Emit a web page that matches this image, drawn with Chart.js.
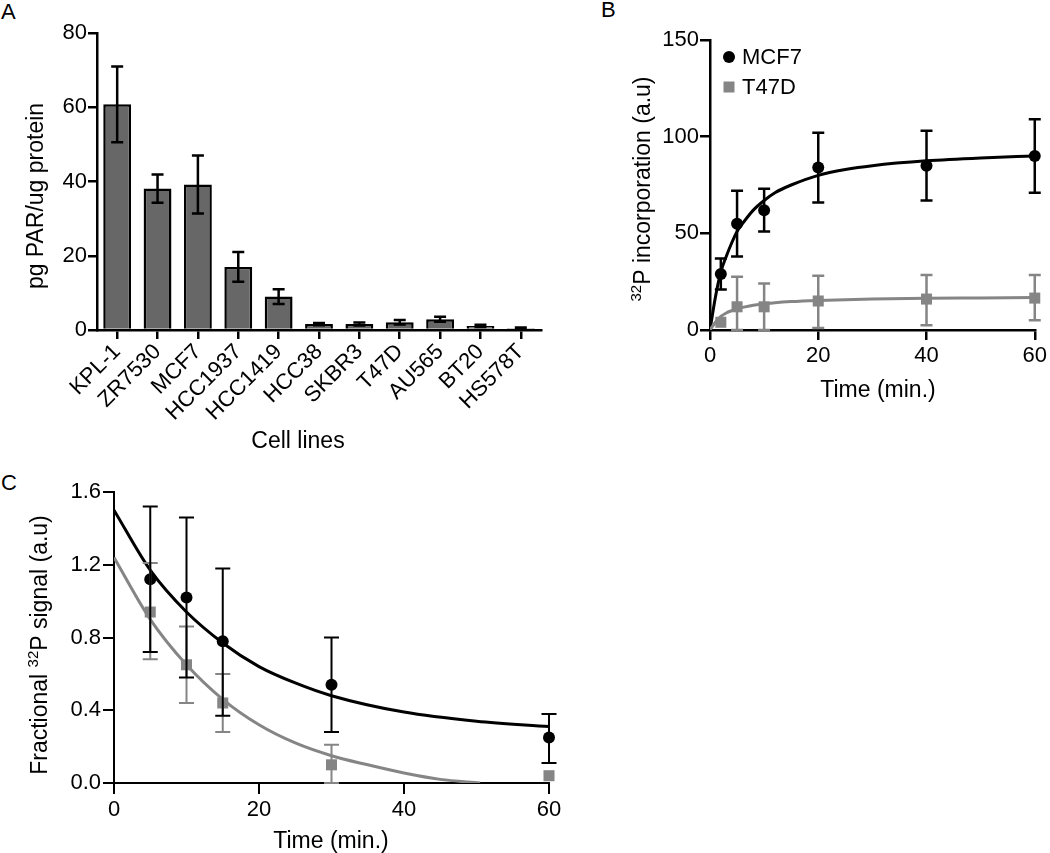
<!DOCTYPE html>
<html><head><meta charset="utf-8">
<script src="https://cdn.jsdelivr.net/npm/chart.js@4.4.1/dist/chart.umd.min.js"></script>
<style>
html,body{margin:0;padding:0;background:#fff;}
body{width:1050px;height:853px;position:relative;overflow:hidden;font-family:"Liberation Sans",Arial,sans-serif;}
canvas{position:absolute;}
.lbl{position:absolute;font-size:22px;line-height:22px;color:#000;}
</style></head><body>
<div class="lbl" style="left:1px;top:1px">A</div>
<div class="lbl" style="left:601px;top:-1px">B</div>
<div class="lbl" style="left:1px;top:472px">C</div>
<canvas id="chartA" width="560" height="470" style="left:0;top:0"></canvas>
<canvas id="chartB" width="450" height="420" style="left:600px;top:0"></canvas>
<canvas id="chartC" width="600" height="383" style="left:0;top:470px"></canvas>
<script>
// ---------- Panel A data ----------
const cellLines = ['KPL-1','ZR7530','MCF7','HCC1937','HCC1419','HCC38','SKBR3','T47D','AU565','BT20','HS578T'];
const parLevels = [60.8, 38.1, 39.2, 17.0, 9.0, 1.6, 1.6, 2.1, 2.9, 1.1, 0.5];
const parErr    = [10.2, 3.8, 7.8, 4.0, 2.0, 0.3, 0.4, 0.6, 0.7, 0.3, 0.2];
const yTicksA   = [0, 20, 40, 60, 80];

// ---------- Panel B data ----------
const timeB      = [2, 5, 10, 20, 40, 60];
const mcf7Inc    = [29, 55, 62, 84, 85, 90];
const mcf7IncHi  = [37, 72, 73, 102, 103, 109];
const mcf7IncLo  = [21, 38, 51, 66, 67, 71];
const t47dInc    = [4, 12, 12, 15, 16, 16.5];
const t47dIncHi  = [4, 27.5, 24, 28, 28.5, 28.5];
const t47dIncLo  = [4, 0, 0, 1, 2.5, 5];
const fitTimeB   = [0, 1, 2, 3, 4, 5, 6, 8, 10, 12, 15, 20, 25, 30, 40, 50, 60];
const mcf7FitB   = [0, 17, 30, 38, 45, 51, 55, 62, 67, 71, 75, 80, 83, 85, 87.5, 89, 90];
const t47dFitB   = [0, 4, 7, 8.8, 10, 11, 11.7, 12.8, 13.5, 14.1, 14.7, 15.3, 15.7, 16, 16.4, 16.6, 16.8];
const yTicksB    = [0, 50, 100, 150];
const xTicksB    = [0, 20, 40, 60];

// ---------- Panel C data ----------
const timeC      = [5, 10, 15, 30, 60];
const mcf7Frac   = [1.12, 1.02, 0.78, 0.54, 0.25];
const mcf7FracHi = [1.52, 1.46, 1.18, 0.80, 0.38];
const mcf7FracLo = [0.72, 0.58, 0.37, 0.28, 0.11];
const t47dFrac   = [0.94, 0.65, 0.44, 0.10, 0.04];
const t47dFracHi = [1.21, 0.86, 0.60, 0.21, 0.04];
const t47dFracLo = [0.68, 0.44, 0.28, 0.00, 0.04];
const fitTimeMcf7C = [0, 5, 10, 15, 20, 25, 30, 40, 50, 60];
const mcf7FitC     = [1.50, 1.17, 0.94, 0.77, 0.64, 0.55, 0.48, 0.39, 0.34, 0.31];
const fitTimeT47dC = [0, 5, 10, 15, 20, 25, 30, 35, 40, 45, 50.5];
const t47dFitC     = [1.24, 0.90, 0.65, 0.46, 0.32, 0.22, 0.15, 0.10, 0.055, 0.02, 0.0];
const yTicksC      = [0.0, 0.4, 0.8, 1.2, 1.6];
const xTicksC      = [0, 20, 40, 60];

const GRAY = '#858585';
const BAR = '#676767';
const FONT = '"Liberation Sans", Arial, sans-serif';
const TITLE = 23, SUP = 15;

Chart.defaults.font.family = FONT;
Chart.defaults.font.size = 22;
Chart.defaults.color = '#000';
Chart.defaults.animation = false;

const pts = (xs, ys) => xs.map((x, i) => ({x: x, y: ys[i]}));

// error bar plugin
const errorBars = {
  id: 'errorBars',
  afterDatasetsDraw(chart) {
    const ctx = chart.ctx, ys = chart.scales.y;
    chart.data.datasets.forEach((ds, i) => {
      if (!ds.errHi) return;
      const meta = chart.getDatasetMeta(i);
      ctx.save();
      ctx.strokeStyle = ds.errColor; ctx.lineWidth = ds.errWidth; ctx.lineCap = 'butt';
      meta.data.forEach((el, j) => {
        const x = el.x;
        const yh = ys.getPixelForValue(ds.errHi[j]);
        const yl = ys.getPixelForValue(ds.errLo[j]);
        if (Math.abs(yh - yl) < 0.5) return;
        const c = ds.errCap;
        ctx.beginPath();
        ctx.moveTo(x, yh); ctx.lineTo(x, yl);
        ctx.moveTo(x - c, yh); ctx.lineTo(x + c, yh);
        ctx.moveTo(x - c, yl); ctx.lineTo(x + c, yl);
        ctx.stroke();
      });
      ctx.restore();
    });
  }
};

// axis titles with optional superscript (positions in canvas coords)
function drawRich(ctx, parts, cx, base, rotated) {
  ctx.save();
  let w = 0;
  parts.forEach(p => { ctx.font = p.size + 'px ' + FONT; p.w = ctx.measureText(p.t).width; w += p.w; });
  if (rotated) { ctx.translate(base, cx); ctx.rotate(-Math.PI / 2); }
  else { ctx.translate(cx, base); }
  let x = -w / 2;
  ctx.fillStyle = '#000'; ctx.textBaseline = 'alphabetic'; ctx.textAlign = 'left';
  parts.forEach(p => { ctx.font = p.size + 'px ' + FONT; ctx.fillText(p.t, x, -(p.raise || 0)); x += p.w; });
  ctx.restore();
}
const axisTitles = {
  id: 'axisTitles',
  afterDraw(chart, args, opts) {
    (opts.items || []).forEach(it => drawRich(chart.ctx, it.parts, it.c, it.base, it.rot));
  }
};

const legendB = {
  id: 'legendB',
  afterDraw(chart, args, opts) {
    if (!opts.show) return;
    const ctx = chart.ctx;
    ctx.save();
    ctx.font = '22px ' + FONT; ctx.textBaseline = 'middle'; ctx.textAlign = 'left';
    opts.items.forEach(it => {
      const ds = chart.data.datasets[it.ds];
      ctx.fillStyle = ds.backgroundColor;
      if (ds.pointStyle === 'circle') { ctx.beginPath(); ctx.arc(it.x, it.y, 6, 0, Math.PI * 2); ctx.fill(); }
      else { ctx.fillRect(it.x - 5.5, it.y - 5.5, 11, 11); }
      ctx.fillStyle = '#000';
      ctx.fillText(ds.label, it.x + 13, it.y + 1);
    });
    ctx.restore();
  }
};

function axisStyle(lw, tl) {
  return {
    grid: {drawOnChartArea: false, drawTicks: true, tickLength: tl, lineWidth: lw, color: '#000'},
    border: {display: true, width: lw, color: '#000'}
  };
}
const setTicks = arr => (s => { s.ticks = arr.map(v => ({value: v})); });

// ---------- Chart A ----------
const chartA = new Chart(document.getElementById('chartA'), {
  type: 'bar',
  data: {
    labels: cellLines,
    datasets: [{
      data: parLevels, backgroundColor: BAR, borderColor: '#000', borderWidth: 2.5,
      barPercentage: 0.69, categoryPercentage: 1,
      errHi: parLevels.map((v, i) => v + parErr[i]), errLo: parLevels.map((v, i) => v - parErr[i]),
      errColor: '#000', errWidth: 2.5, errCap: 6
    }]
  },
  options: {
    responsive: false, animation: false,
    layout: {autoPadding: false, padding: {left: 0, top: 33, right: 19, bottom: 0}},
    plugins: {legend: {display: false}, tooltip: {enabled: false},
      axisTitles: {items: [
        {parts: [{t: 'pg PAR/ug protein', size: TITLE}], c: 196, base: 43, rot: true},
        {parts: [{t: 'Cell lines', size: TITLE}], c: 298, base: 448, rot: false}
      ]}},
    scales: {
      x: Object.assign(axisStyle(2.5, 9), {
        ticks: {minRotation: 45, maxRotation: 45, autoSkip: false, padding: 0},
        afterFit(s) { s.height = 140; }
      }),
      y: Object.assign(axisStyle(2.5, 9), {
        min: 0, max: 80,
        ticks: {padding: 1},
        afterBuildTicks: setTicks(yTicksA),
        afterFit(s) { s.width = 97; }
      })
    }
  },
  plugins: [errorBars, axisTitles]
});
chartA.options.scales.x.grid.offset = false;
chartA.update('none');

// ---------- Chart B ----------
new Chart(document.getElementById('chartB'), {
  type: 'scatter',
  data: {
    datasets: [
      {type: 'line', label: 'T47D fit', data: pts(fitTimeB, t47dFitB), borderColor: GRAY, borderWidth: 3,
       pointRadius: 0, cubicInterpolationMode: 'monotone', fill: false},
      {type: 'line', label: 'MCF7 fit', data: pts(fitTimeB, mcf7FitB), borderColor: '#000', borderWidth: 3,
       pointRadius: 0, cubicInterpolationMode: 'monotone', fill: false},
      {label: 'T47D', data: pts(timeB, t47dInc), pointStyle: 'rect', pointRadius: 7.8, backgroundColor: GRAY,
       borderWidth: 0, clip: false, errHi: t47dIncHi, errLo: t47dIncLo, errColor: GRAY, errWidth: 2.5, errCap: 6},
      {label: 'MCF7', data: pts(timeB, mcf7Inc), pointStyle: 'circle', pointRadius: 6, backgroundColor: '#000',
       borderWidth: 0, clip: false, errHi: mcf7IncHi, errLo: mcf7IncLo, errColor: '#000', errWidth: 2.5, errCap: 6}
    ]
  },
  options: {
    responsive: false, animation: false,
    layout: {autoPadding: false, padding: {left: 0, top: 40, right: 12, bottom: 0}},
    plugins: {legend: {display: false}, tooltip: {enabled: false},
      legendB: {show: true, items: [{ds: 3, x: 129, y: 57}, {ds: 2, x: 129, y: 87}]},
      axisTitles: {items: [
        {parts: [{t: '32', size: SUP, raise: 9}, {t: 'P incorporation (a.u)', size: TITLE}], c: 189, base: 50, rot: true},
        {parts: [{t: 'Time (min.)', size: TITLE}], c: 278, base: 397, rot: false}
      ]}},
    scales: {
      x: Object.assign(axisStyle(2.5, 10), {
        type: 'linear', min: 0, max: 60,
        ticks: {padding: 3},
        afterBuildTicks: setTicks(xTicksB),
        afterFit(s) { s.height = 90; }
      }),
      y: Object.assign(axisStyle(2.5, 10), {
        min: 0, max: 150,
        ticks: {padding: 1},
        afterBuildTicks: setTicks(yTicksB),
        afterFit(s) { s.width = 110; }
      })
    }
  },
  plugins: [errorBars, axisTitles, legendB]
});

// ---------- Chart C ----------
new Chart(document.getElementById('chartC'), {
  type: 'scatter',
  data: {
    datasets: [
      {type: 'line', label: 'T47D fit', data: pts(fitTimeT47dC, t47dFitC), borderColor: GRAY, borderWidth: 3,
       pointRadius: 0, cubicInterpolationMode: 'monotone', fill: false},
      {type: 'line', label: 'MCF7 fit', data: pts(fitTimeMcf7C, mcf7FitC), borderColor: '#000', borderWidth: 3,
       pointRadius: 0, cubicInterpolationMode: 'monotone', fill: false},
      {label: 'T47D', data: pts(timeC, t47dFrac), pointStyle: 'rect', pointRadius: 7.8, backgroundColor: GRAY,
       borderWidth: 0, clip: false, errHi: t47dFracHi, errLo: t47dFracLo, errColor: GRAY, errWidth: 2, errCap: 7.5},
      {label: 'MCF7', data: pts(timeC, mcf7Frac), pointStyle: 'circle', pointRadius: 6, backgroundColor: '#000',
       borderWidth: 0, clip: false, errHi: mcf7FracHi, errLo: mcf7FracLo, errColor: '#000', errWidth: 2, errCap: 7.5}
    ]
  },
  options: {
    responsive: false, animation: false,
    layout: {autoPadding: false, padding: {left: 0, top: 22, right: 51, bottom: 0}},
    plugins: {legend: {display: false}, tooltip: {enabled: false},
      axisTitles: {items: [
        {parts: [{t: 'Fractional ', size: TITLE}, {t: '32', size: SUP, raise: 9}, {t: 'P signal (a.u)', size: TITLE}], c: 175, base: 47, rot: true},
        {parts: [{t: 'Time (min.)', size: TITLE}], c: 331, base: 378, rot: false}
      ]}},
    scales: {
      x: Object.assign(axisStyle(2, 11), {
        type: 'linear', min: 0, max: 60,
        ticks: {padding: 3},
        afterBuildTicks: setTicks(xTicksC),
        afterFit(s) { s.height = 70; }
      }),
      y: Object.assign(axisStyle(2, 11), {
        min: 0, max: 1.6,
        ticks: {padding: 2, callback: v => Number(v).toFixed(1)},
        afterBuildTicks: setTicks(yTicksC),
        afterFit(s) { s.width = 114; }
      })
    }
  },
  plugins: [errorBars, axisTitles]
});
</script>
</body></html>
